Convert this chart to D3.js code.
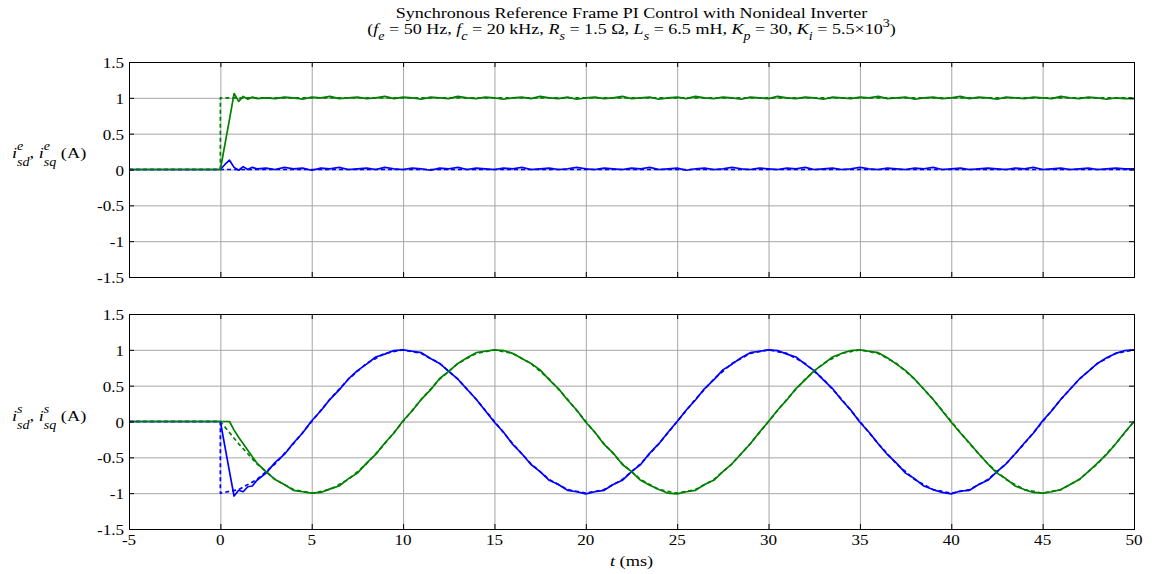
<!DOCTYPE html>
<html lang="en">
<head>
  <meta charset="UTF-8">
  <title>Synchronous Reference Frame PI Control</title>
  <script src="https://d3js.org/d3.v7.min.js"></script>
  <style>
    html, body { margin: 0; background: #fff; }
    svg { display: block; }
    text { font-family: "Liberation Serif", "Times New Roman", serif; fill: #000; }
    .grid line { stroke: #a6a6a6; stroke-width: 1; }
    .frame { fill: none; stroke: #000; stroke-width: 1; }
  </style>
</head>
<body>
<svg width="1152" height="574"></svg>
<script>
// time grid (ms): step, dense transient, then 0.5 ms steps
const tHead = [-5, 0, 0.25, 0.5, 0.75, 1, 1.25, 1.5, 1.75, 2];
const tTail = d3.range(2.5, 50.001, 0.5);
const tMeas = tHead.concat(tTail);

// top plot: synchronous frame currents (A)
const isqeHead = [0, 0, 0.35, 0.70, 1.06, 0.95, 1.02, 0.98, 1.01, 0.99];
const isqeTail = [
  1.00, 0.99, 1.01, 1.00, 0.98, 1.01, 1.00, 1.02, 0.99, 1.00,
  1.01, 0.99, 1.00, 1.02, 0.99, 1.01, 1.00, 0.98, 1.01, 1.00,
  0.99, 1.02, 1.00, 0.99, 1.01, 1.00, 0.98, 1.00, 1.01, 0.99,
  1.02, 1.00, 0.99, 1.01, 0.98, 1.00, 1.01, 0.99, 1.00, 1.02,
  0.99, 1.00, 1.01, 0.98, 1.00, 1.01, 0.99, 1.02, 1.00, 0.99,
  1.01, 1.00, 0.98, 1.01, 1.00, 0.99, 1.02, 1.00, 0.99, 1.01,
  1.00, 0.98, 1.01, 1.00, 0.99, 1.01, 1.00, 1.02, 0.99, 1.00,
  1.01, 0.98, 1.00, 1.01, 0.99, 1.00, 1.02, 0.99, 1.01, 1.00,
  0.98, 1.01, 1.00, 0.99, 1.01, 1.00, 0.99, 1.02, 1.00, 0.99,
  1.01, 1.00, 0.98, 1.00, 0.99, 0.99
];
const isdeHead = [0, 0, 0.07, 0.13, 0.03, -0.01, 0.04, 0.00, 0.03, 0.01];
const isdeTail = [
  0.02, 0.00, 0.03, 0.01, 0.02, -0.01, 0.02, 0.01, 0.03, 0.00,
  0.01, 0.02, 0.00, 0.03, 0.01, 0.00, 0.02, 0.01, -0.01, 0.02,
  0.01, 0.03, 0.00, 0.02, 0.01, 0.00, 0.02, 0.01, 0.03, 0.00,
  0.01, 0.02, 0.00, 0.01, 0.03, 0.01, 0.00, 0.02, 0.01, 0.00,
  0.02, 0.01, 0.03, 0.00, 0.01, 0.02, -0.01, 0.01, 0.02, 0.00,
  0.01, 0.03, 0.01, 0.00, 0.02, 0.01, 0.00, 0.02, 0.01, 0.03,
  0.00, 0.01, 0.02, 0.00, 0.01, 0.03, 0.01, 0.00, 0.02, 0.01,
  0.00, 0.02, 0.01, 0.03, 0.00, 0.01, 0.02, 0.00, 0.01, 0.02,
  0.01, 0.00, 0.02, 0.01, 0.03, 0.00, 0.01, 0.02, 0.00, 0.01,
  0.02, 0.00, 0.01, 0.02, 0.01, 0.01
];

// bottom plot: stationary frame currents (A)
const isdsHead = [0, 0, -0.35, -0.70, -1.04, -0.96, -0.98, -0.91, -0.90, -0.82];
const isdsTail = [
  -0.72, -0.57, -0.46, -0.30, -0.16, 0.01, 0.15, 0.31, 0.44, 0.59,
  0.71, 0.80, 0.90, 0.94, 0.99, 1.00, 0.98, 0.96, 0.88, 0.81,
  0.70, 0.59, 0.45, 0.31, 0.15, -0.01, -0.15, -0.32, -0.45, -0.60,
  -0.70, -0.82, -0.88, -0.96, -0.98, -1.01, -0.98, -0.96, -0.88, -0.82,
  -0.70, -0.60, -0.44, -0.31, -0.15, 0.00, 0.16, 0.30, 0.46, 0.58,
  0.72, 0.80, 0.89, 0.96, 0.98, 1.00, 0.99, 0.94, 0.90, 0.80,
  0.71, 0.58, 0.46, 0.30, 0.16, -0.01, -0.15, -0.31, -0.46, -0.58,
  -0.72, -0.80, -0.90, -0.95, -0.99, -1.01, -0.97, -0.96, -0.88, -0.82,
  -0.70, -0.59, -0.45, -0.30, -0.16, 0.01, 0.15, 0.31, 0.45, 0.59,
  0.70, 0.81, 0.89, 0.95, 0.99, 1.00
];
const isqsHead = [0, 0, 0, 0, -0.12, -0.22, -0.31, -0.40, -0.49, -0.58];
const isqsTail = [
  -0.70, -0.81, -0.88, -0.96, -0.98, -1.00, -0.99, -0.94, -0.90, -0.80,
  -0.72, -0.58, -0.46, -0.30, -0.16, 0.01, 0.15, 0.31, 0.44, 0.60,
  0.70, 0.81, 0.89, 0.96, 0.98, 1.00, 0.99, 0.95, 0.88, 0.81,
  0.72, 0.58, 0.46, 0.30, 0.16, -0.01, -0.15, -0.32, -0.44, -0.60,
  -0.70, -0.82, -0.89, -0.95, -1.00, -1.01, -0.98, -0.96, -0.88, -0.82,
  -0.70, -0.59, -0.45, -0.31, -0.15, 0.00, 0.16, 0.30, 0.46, 0.58,
  0.71, 0.80, 0.90, 0.95, 0.99, 1.00, 0.98, 0.96, 0.89, 0.80,
  0.71, 0.59, 0.45, 0.31, 0.15, -0.01, -0.16, -0.30, -0.45, -0.59,
  -0.72, -0.80, -0.90, -0.95, -0.99, -1.00, -0.98, -0.95, -0.88, -0.81,
  -0.70, -0.58, -0.46, -0.31, -0.15, 0.00
];

// references (dashed)
const refTopT = [-5, 0, 0, 50];
const refSqe = [0, 0, 1, 1];
const refSde = [0, 0, 0, 0];
const refT = [-5, 0].concat(d3.range(0, 51, 1));
const refSds = [0, 0,
  -1.00, -0.95, -0.81, -0.59, -0.31, 0.00, 0.31, 0.59, 0.81, 0.95,
  1.00, 0.95, 0.81, 0.59, 0.31, 0.00, -0.31, -0.59, -0.81, -0.95,
  -1.00, -0.95, -0.81, -0.59, -0.31, 0.00, 0.31, 0.59, 0.81, 0.95,
  1.00, 0.95, 0.81, 0.59, 0.31, 0.00, -0.31, -0.59, -0.81, -0.95,
  -1.00, -0.95, -0.81, -0.59, -0.31, 0.00, 0.31, 0.59, 0.81, 0.95,
  1.00];
const refSqs = [0, 0,
  0.00, -0.31, -0.59, -0.81, -0.95, -1.00, -0.95, -0.81, -0.59, -0.31,
  0.00, 0.31, 0.59, 0.81, 0.95, 1.00, 0.95, 0.81, 0.59, 0.31,
  0.00, -0.31, -0.59, -0.81, -0.95, -1.00, -0.95, -0.81, -0.59, -0.31,
  0.00, 0.31, 0.59, 0.81, 0.95, 1.00, 0.95, 0.81, 0.59, 0.31,
  0.00, -0.31, -0.59, -0.81, -0.95, -1.00, -0.95, -0.81, -0.59, -0.31,
  0.00];

const xTicks = [-5, 0, 5, 10, 15, 20, 25, 30, 35, 40, 45, 50];
const yTicks = [-1.5, -1, -0.5, 0, 0.5, 1, 1.5];

const blue = "#0000ff", green = "#008000";
const SX = 1.22; // the figure is stretched horizontally
const svg = d3.select("svg");
const left = 129, right = 1134;
const x = d3.scaleLinear().domain([-5, 50]).range([left, right]);

const zip = (ts, vs) => ts.map((t, i) => [t, vs[i]]);

// text placed at (px, py), stretched like the original picture
function label(px, py, size, anchor) {
  return svg.append("text")
    .attr("transform", `translate(${px},${py}) scale(${SX},1)`)
    .attr("text-anchor", anchor)
    .style("font-size", size + "px");
}

function panel(top, bottom, series, showX) {
  const y = d3.scaleLinear().domain([-1.5, 1.5]).range([bottom, top]);
  const g = svg.append("g");

  const grid = g.append("g").attr("class", "grid");
  grid.selectAll(".gx").data(xTicks.slice(1, -1)).enter().append("line")
    .attr("x1", d => x(d) + 0.5).attr("x2", d => x(d) + 0.5).attr("y1", top).attr("y2", bottom);
  grid.selectAll(".gy").data(yTicks.slice(1, -1)).enter().append("line")
    .attr("x1", left).attr("x2", right).attr("y1", d => y(d) + 0.5).attr("y2", d => y(d) + 0.5);

  const line = d3.line().x(d => x(d[0])).y(d => y(d[1]));
  series.forEach(s => {
    g.append("path").datum(s.pts).attr("d", line)
      .attr("fill", "none").attr("stroke", s.color)
      .attr("stroke-width", 1.7)
      .attr("stroke-dasharray", s.dash ? "4,3" : null)
      .attr("stroke-linejoin", "round");
  });

  g.append("rect").attr("class", "frame")
    .attr("x", left + 0.5).attr("y", top + 0.5)
    .attr("width", right - left).attr("height", bottom - top);

  // inward ticks on all four sides
  const tk = g.append("g").attr("stroke", "#000");
  yTicks.forEach(v => {
    tk.append("line").attr("x1", left).attr("x2", left + 5).attr("y1", y(v) + 0.5).attr("y2", y(v) + 0.5);
    tk.append("line").attr("x1", right - 5).attr("x2", right).attr("y1", y(v) + 0.5).attr("y2", y(v) + 0.5);
  });
  xTicks.forEach(v => {
    tk.append("line").attr("x1", x(v) + 0.5).attr("x2", x(v) + 0.5).attr("y1", top).attr("y2", top + 5);
    tk.append("line").attr("x1", x(v) + 0.5).attr("x2", x(v) + 0.5).attr("y1", bottom - 5).attr("y2", bottom);
  });

  yTicks.forEach(v => label(left - 5, y(v) + 6, 14, "end").text(v));
  if (showX) xTicks.forEach(v => label(x(v), bottom + 16, 14, "middle").text(v));
  return y;
}

panel(62, 277, [
  { pts: zip(refTopT, refSde), color: blue, dash: true },
  { pts: zip(refTopT, refSqe), color: green, dash: true },
  { pts: zip(tMeas, isdeHead.concat(isdeTail)), color: blue },
  { pts: zip(tMeas, isqeHead.concat(isqeTail)), color: green }
], false);

panel(314, 529, [
  { pts: zip(refT, refSds), color: blue, dash: true },
  { pts: zip(refT, refSqs), color: green, dash: true },
  { pts: zip(tMeas, isdsHead.concat(isdsTail)), color: blue },
  { pts: zip(tMeas, isqsHead.concat(isqsTail)), color: green }
], true);

// y-axis labels: i with stacked superscript and subscript
function yLabel(px, py, sup) {
  const t = label(px, py, 15, "start");
  [["sd", ", "], ["sq", " (A)"]].forEach(([sub, after]) => {
    t.append("tspan").style("font-style", "italic").text("i");
    const s = t.append("tspan").attr("dy", -8).style("font-style", "italic")
      .style("font-size", "11.5px").text(sup);
    const w = s.node().getComputedTextLength();
    t.append("tspan").attr("dy", 16).attr("dx", -w).style("font-style", "italic")
      .style("font-size", "11.5px").text(sub);
    t.append("tspan").attr("dy", -8).text(after);
  });
}
yLabel(12, 158, "e");
yLabel(12, 421, "s");

// x label
const xl = label((left + right) / 2, 566, 15, "middle");
xl.append("tspan").style("font-style", "italic").text("t");
xl.append("tspan").text(" (ms)");

// title
const cx = (left + right) / 2;
label(cx, 18, 14.8, "middle").text("Synchronous Reference Frame PI Control with Nonideal Inverter");
const t2 = label(cx, 34, 14.8, "middle");
const parts = [
  ["(", null], ["f", "e"], [" = 50 Hz, ", null], ["f", "c"], [" = 20 kHz, ", null],
  ["R", "s"], [" = 1.5 Ω, ", null], ["L", "s"], [" = 6.5 mH, ", null],
  ["K", "p"], [" = 30, ", null], ["K", "i"], [" = 5.5×10", null]
];
let shift = 0;
parts.forEach(([txt, sub]) => {
  t2.append("tspan").attr("dy", -shift).style("font-style", sub ? "italic" : null).text(txt);
  shift = 0;
  if (sub) {
    t2.append("tspan").attr("dy", 6).style("font-style", "italic").style("font-size", "11.5px").text(sub);
    shift = 6;
  }
});
t2.append("tspan").attr("dy", -7).style("font-size", "11.5px").text("3");
t2.append("tspan").attr("dy", 7).text(")");
</script>
</body>
</html>
